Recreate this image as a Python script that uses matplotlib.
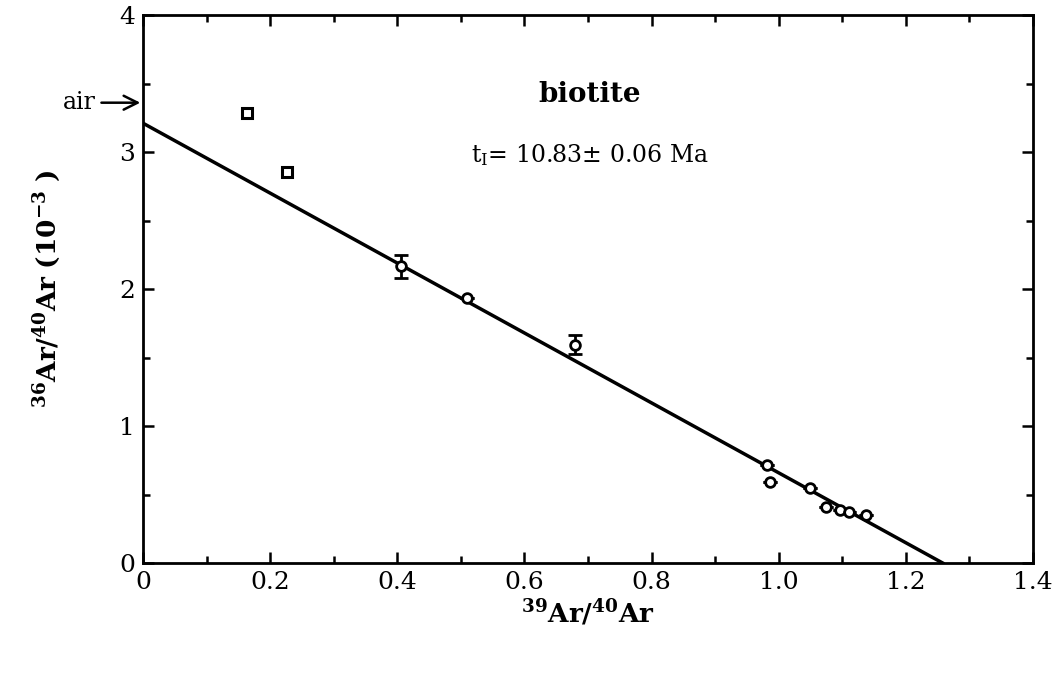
import matplotlib
matplotlib.use('Agg')
import matplotlib.pyplot as plt
import numpy as np

plt.rcParams['font.family'] = 'DejaVu Serif'
plt.rcParams['mathtext.fontset'] = 'dejavuserif'

# data
x_pts = [0.163, 0.226, 0.406, 0.510, 0.679, 0.982, 0.987, 1.049, 1.075, 1.096, 1.111, 1.137]
y_pts = [3.285, 2.854, 2.165, 1.934, 1.595, 0.715, 0.590, 0.550, 0.409, 0.387, 0.372, 0.350]
y_err = [0.0, 0.0, 0.085, 0.0, 0.07, 0.0, 0.0, 0.0, 0.0, 0.0, 0.0, 0.0]

# isochron fit: intercepts
y0 = 3.21
x0 = 1.258
air = 3.36

fig = plt.figure(figsize=(10.6, 6.73), dpi=100)
ax = fig.add_axes([0.135, 0.1634, 0.8395, 0.8143])

xs = np.array([0, x0])
ax.plot(xs, y0 * (1 - xs / x0), color='black', lw=2.5, zorder=2)

ax.errorbar(x_pts[2:], y_pts[2:], yerr=y_err[2:], fmt='o', ms=7, mfc='white', mec='black',
            mew=2, ecolor='black', elinewidth=2, capsize=5, capthick=2, zorder=3)
ax.plot(x_pts[:2], y_pts[:2], 's', ms=7, mfc='white', mec='black', mew=2.2, zorder=3)

ax.set_xlim(0, 1.4)
ax.set_ylim(0, 4)
ax.set_xticks(np.arange(0, 1.41, 0.2))
ax.set_xticklabels(['0', '0.2', '0.4', '0.6', '0.8', '1.0', '1.2', '1.4'])
ax.set_xticks(np.arange(0.1, 1.4, 0.2), minor=True)
ax.set_yticks([0, 1, 2, 3, 4])
ax.set_yticks([0.5, 1.5, 2.5, 3.5], minor=True)
ax.tick_params(which='both', direction='in', top=True, right=True, width=1.8, labelsize=18)
ax.tick_params(which='major', length=8, pad=6)
ax.tick_params(which='minor', length=5)
for s in ax.spines.values():
    s.set_linewidth(2)

ax.set_xlabel(r'$\mathbf{^{39}Ar/^{40}Ar}$', fontsize=19, labelpad=2)
ax.set_ylabel(r'$\mathbf{^{36}Ar/^{40}Ar\ (10^{-3}\ )}$', fontsize=19, labelpad=40)

ax.text(0.703, 3.42, 'biotite', fontsize=20, fontweight='bold', ha='center', va='center')
ax.text(0.703, 2.98, r't$_\mathrm{I}$= 10.83$\pm$ 0.06 Ma', fontsize=17, ha='center', va='center')

ax.annotate('air', xy=(0, air), xycoords='data', xytext=(-34, 0), textcoords='offset points',
            ha='right', va='center', fontsize=17, annotation_clip=False,
            arrowprops=dict(arrowstyle='->', lw=1.8, color='black', mutation_scale=25))

fig.savefig('out.png', dpi=100)
